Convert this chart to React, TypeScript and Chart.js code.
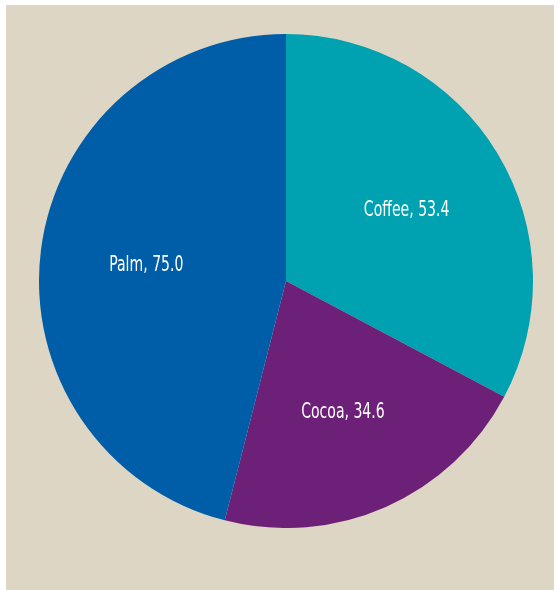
import React, { useEffect, useRef } from "react";
import { Chart, registerables } from "chart.js";

Chart.register(...registerables);

const categories = ["Coffee", "Cocoa", "Palm"];
const values = [53.4, 34.6, 75.0];
const colors = ["#00a1b0", "#6d2077", "#005ea8"];
const labelTexts = ["Coffee, 53.4", "Cocoa, 34.6", "Palm, 75.0"];

const labelPlugin = {
  id: "sliceLabels",
  afterDatasetsDraw(chart: any) {
    const ctx = chart.ctx;
    const meta = chart.getDatasetMeta(0);
    meta.data.forEach((arc: any, i: number) => {
      const { x, y, startAngle, endAngle, outerRadius } = arc.getProps(
        ["x", "y", "startAngle", "endAngle", "outerRadius"],
        true
      );
      const mid = (startAngle + endAngle) / 2;
      const r = outerRadius * 0.57;
      const cx = x + Math.cos(mid) * r;
      const cy = y + Math.sin(mid) * r;
      ctx.save();
      ctx.translate(cx, cy + 8);
      ctx.scale(0.71, 1);
      ctx.fillStyle = "#ffffff";
      ctx.font = '22px "DejaVu Sans Condensed", "DejaVu Sans", sans-serif';
      ctx.textAlign = "center";
      ctx.textBaseline = "alphabetic";
      ctx.fillText(labelTexts[i], 0, 0);
      ctx.restore();
    });
  },
};

export default function App() {
  const ref = useRef<HTMLCanvasElement | null>(null);
  useEffect(() => {
    if (!ref.current) return;
    const chart = new Chart(ref.current, {
      type: "pie",
      data: {
        labels: categories,
        datasets: [
          {
            data: values,
            backgroundColor: colors,
            borderWidth: 0,
          },
        ],
      },
      options: {
        animation: false,
        responsive: false,
        maintainAspectRatio: false,
        layout: { padding: 0 },
        plugins: {
          legend: { display: false },
          tooltip: { enabled: false },
        },
      },
      plugins: [labelPlugin],
    });
    return () => chart.destroy();
  }, []);

  return (
    <div style={{ position: "absolute", left: 0, top: 0, width: 557, height: 590, background: "#ffffff" }}>
      <div
        style={{
          position: "absolute",
          left: 6,
          top: 5,
          width: 548,
          height: 585,
          background: "#ded6c4",
        }}
      />
      <canvas
        ref={ref}
        width={494}
        height={494}
        style={{ position: "absolute", left: 39, top: 34, width: 494, height: 494 }}
      />
    </div>
  );
}
